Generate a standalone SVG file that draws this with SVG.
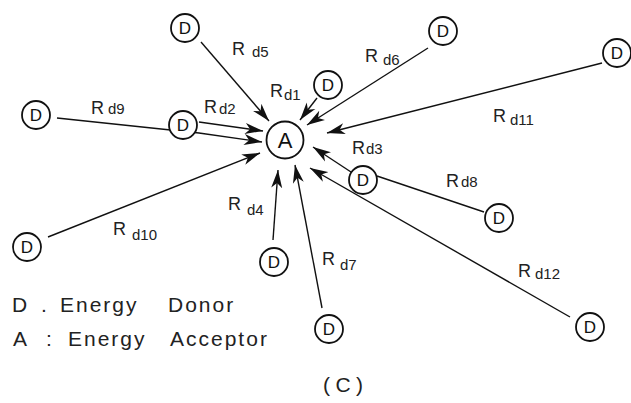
<svg xmlns="http://www.w3.org/2000/svg" width="631" height="403" viewBox="0 0 631 403">
<style>
  .edge { stroke: #111; stroke-width: 1.4; fill: none; }
  .arr { marker-end: url(#ah); }
  .node circle { fill: #fff; stroke: #111; stroke-width: 1.8; }
  .node text { font-family: "Liberation Sans", Arial, sans-serif; font-size: 17px; fill: #111; text-anchor: middle; }
  .lbl { font-family: "Liberation Sans", Arial, sans-serif; fill: #222; }
  .R { font-size: 18px; }
  .s { font-size: 15px; }
  .legend { font-family: "Liberation Sans", Arial, sans-serif; font-size: 21px; fill: #222; letter-spacing: 2px; }
</style>
<defs>
  <marker id="ah" markerUnits="userSpaceOnUse" markerWidth="19" markerHeight="12" refX="18" refY="6" orient="auto">
    <path d="M0,0.5 L18,6 L0,11.5 L5,6 Z" fill="#111"/>
  </marker>
</defs>
<rect width="631" height="403" fill="#fff"/>
<g id="connectors">
  <path class="edge arr" d="M201,42 L269,121"/>
  <path class="edge arr" d="M317,98 L300,120"/>
  <path class="edge arr" d="M428,48 L307,125"/>
  <path class="edge arr" d="M602,63 L327,133"/>
  <path class="edge arr" d="M351,172 L313,147"/>
  <path class="edge" d="M484,212 L377,176"/>
  <path class="edge arr" d="M570,317 L310,168"/>
  <path class="edge arr" d="M322,308 L295,165"/>
  <path class="edge arr" d="M273,240 L278,170"/>
  <path class="edge arr" d="M48,237 L260,153"/>
  <path class="edge arr" d="M199,122 L263,131"/>
  <path class="edge arr" d="M57,118 L199,133 L262,142"/>
</g>
<g id="nA" class="node"><circle cx="285" cy="140" r="18.5"/><text x="285" y="148" style="font-size:22px">A</text></g>
<g id="d5" class="node"><circle cx="185" cy="28" r="14"/><text x="185" y="34">D</text></g>
<g id="d9" class="node"><circle cx="36" cy="115" r="14"/><text x="36" y="121">D</text></g>
<g id="d2" class="node"><circle cx="183" cy="125" r="14"/><text x="183" y="131">D</text></g>
<g id="d1" class="node"><circle cx="328" cy="85" r="14"/><text x="328" y="91">D</text></g>
<g id="d6" class="node"><circle cx="443" cy="31" r="14"/><text x="443" y="37">D</text></g>
<g id="d11" class="node"><circle cx="617" cy="53" r="14"/><text x="617" y="59">D</text></g>
<g id="d3" class="node"><circle cx="363" cy="180" r="14"/><text x="363" y="186">D</text></g>
<g id="d8" class="node"><circle cx="499" cy="218" r="14"/><text x="499" y="224">D</text></g>
<g id="d12" class="node"><circle cx="590" cy="327" r="14"/><text x="590" y="333">D</text></g>
<g id="d7" class="node"><circle cx="329" cy="329" r="14"/><text x="329" y="335">D</text></g>
<g id="d4" class="node"><circle cx="274" cy="262" r="14"/><text x="274" y="268">D</text></g>
<g id="d10" class="node"><circle cx="27" cy="247" r="14"/><text x="27" y="253">D</text></g>
<g id="labels">
  <text class="lbl"><tspan class="R" x="232" y="55">R</tspan><tspan class="s" x="252" y="57">d5</tspan></text>
  <text class="lbl"><tspan class="R" x="270" y="97">R</tspan><tspan class="s" x="284" y="100">d1</tspan></text>
  <text class="lbl"><tspan class="R" x="204" y="113">R</tspan><tspan class="s" x="219" y="114">d2</tspan></text>
  <text class="lbl"><tspan class="R" x="91" y="114">R</tspan><tspan class="s" x="108" y="114">d9</tspan></text>
  <text class="lbl"><tspan class="R" x="365" y="62">R</tspan><tspan class="s" x="383" y="65">d6</tspan></text>
  <text class="lbl"><tspan class="R" x="493" y="122">R</tspan><tspan class="s" x="510" y="125">d11</tspan></text>
  <text class="lbl"><tspan class="R" x="352" y="154">R</tspan><tspan class="s" x="366" y="154">d3</tspan></text>
  <text class="lbl"><tspan class="R" x="446" y="187">R</tspan><tspan class="s" x="461" y="187">d8</tspan></text>
  <text class="lbl"><tspan class="R" x="518" y="277">R</tspan><tspan class="s" x="535" y="279">d12</tspan></text>
  <text class="lbl"><tspan class="R" x="322" y="265">R</tspan><tspan class="s" x="340" y="270">d7</tspan></text>
  <text class="lbl"><tspan class="R" x="228" y="210">R</tspan><tspan class="s" x="247" y="215">d4</tspan></text>
  <text class="lbl"><tspan class="R" x="113" y="235">R</tspan><tspan class="s" x="132" y="240">d10</tspan></text>
</g>
<g id="legend">
  <text class="legend" y="312"><tspan x="12">D</tspan><tspan x="41">.</tspan><tspan x="60">Energy</tspan><tspan x="168">Donor</tspan></text>
  <text class="legend" y="346"><tspan x="13">A</tspan><tspan x="46">:</tspan><tspan x="68">Energy</tspan><tspan x="170">Acceptor</tspan></text>
  <text class="legend" x="323" y="392" textLength="42" lengthAdjust="spacing">( C )</text>
</g>
</svg>
